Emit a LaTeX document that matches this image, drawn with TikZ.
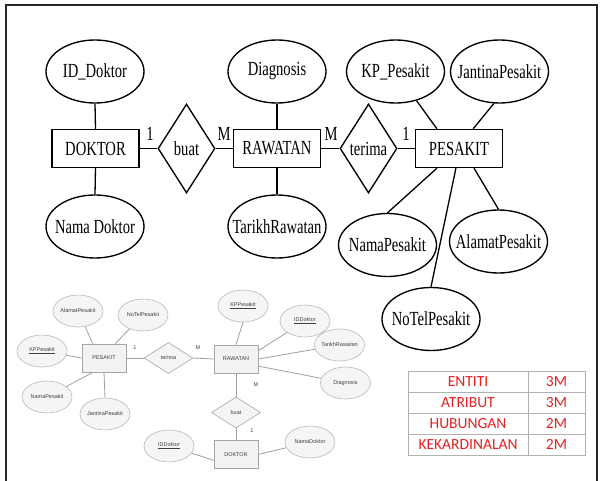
\documentclass[tikz,border=0pt]{standalone}
\usepackage{fontspec}
\setmainfont{Liberation Serif}
\newfontfamily\erfont[FakeStretch=0.73]{Liberation Serif}
\newfontfamily\smallfont{Liberation Sans}
\newfontfamily\tabfont{Carlito}
\usetikzlibrary{shapes.geometric,calc}
\newcommand\zb[1]{\makebox[0pt]{#1}}
\newcommand\us{{\char"5F}}
\definecolor{tabred}{RGB}{228,34,34}
\begin{document}
\begin{tikzpicture}[x=1pt,y=-1pt,
  big/.style={font=\erfont\fontsize{20}{22}\selectfont, line width=1.35pt, inner sep=0pt},
  bent/.style={big, draw, rectangle, minimum width=87pt, minimum height=38pt},
  battr/.style={big, draw, ellipse, minimum width=98pt, minimum height=63pt},
  brel/.style={big, draw, diamond, minimum width=57pt, minimum height=89pt},
  card/.style={font=\erfont\fontsize{20}{22}\selectfont, inner sep=0pt},
  bline/.style={line width=1.3pt, black},
  small/.style={font=\smallfont\fontsize{5.5}{6.5}\selectfont, text=black!75, inner sep=0pt, line width=0.6pt},
  sent/.style={small, draw=gray!70, fill=gray!10, rectangle, minimum width=44pt, minimum height=28pt},
  sattr/.style={small, draw=gray!55, fill=gray!8, ellipse, minimum width=50pt, minimum height=32pt},
  srel/.style={small, draw=gray!70, fill=gray!8, diamond, minimum width=49pt, minimum height=31pt},
  scard/.style={small},
  sline/.style={draw=gray!75, line width=0.8pt},
  cell/.style={draw=gray!60, line width=0.7pt, rectangle, inner sep=0pt, minimum height=21pt,
    font=\tabfont\fontsize{15.5}{17}\selectfont, text=tabred},
  cellA/.style={cell, minimum width=120pt},
  cellB/.style={cell, minimum width=57pt}
]
\useasboundingbox (0,0) rectangle (604,481);
\fill[white] (0,0) rectangle (604,481);
\draw[line width=2pt, black!85] (6,486) -- (6,5) -- (597,5) -- (597,486);

% ---------- top diagram ----------
\node[battr] (idd) at (95,71.5) {\zb{ID\us Doktor}};
\node[bent] (dok) at (95.5,148.5) {\zb{DOKTOR}};
\node[battr] (nmd) at (95,226.5) {\zb{Nama Doktor}};
\node[brel] (buat) at (186.5,148.5) {\zb{buat}};
\node[bent] (raw) at (277,148.5) {\zb{RAWATAN}};
\node[battr] (diag) at (277,71.5) {\zb{Diagnosis}};
\node[battr] (tr) at (277,226.5) {\zb{TarikhRawatan}};
\node[brel] (ter) at (368.5,148.5) {\zb{terima}};
\node[bent] (pes) at (459,148.5) {\zb{PESAKIT}};
\node[battr] (kp) at (395.5,71.5) {\zb{KP\us Pesakit}};
\node[battr] (jp) at (499.5,71.5) {\zb{JantinaPesakit}};
\node[battr] (np) at (387.5,245) {\zb{NamaPesakit}};
\node[battr] (ap) at (498.5,241.5) {\zb{AlamatPesakit}};
\node[battr] (ntp) at (431,319) {\zb{NoTelPesakit}};

\node[card] (c1) at (150,134) {1};
\node[card] (c2) at (224,134) {M};
\node[card] (c3) at (331,134) {M};
\node[card] (c4) at (406,134) {1};

\draw[bline] (idd.south) -- (dok.north);
\draw[bline] (dok.south) -- (nmd.north);
\draw[bline] (dok.east) -- (buat.west);
\draw[bline] (buat.east) -- (raw.west);
\draw[bline] (diag.south) -- (raw.north);
\draw[bline] (raw.south) -- (tr.north);
\draw[bline] (raw.east) -- (ter.west);
\draw[bline] (ter.east) -- (pes.west);
\draw[bline] (kp) -- ($(pes.north west)!0.25!(pes.north east)$);
\draw[bline] (jp.-100) -- ($(pes.north west)!0.66!(pes.north east)$);
\draw[bline] ($(pes.south west)!0.25!(pes.south east)$) -- (np.north);
\draw[bline] ($(pes.south west)!0.465!(pes.south east)$) -- (ntp.north);
\draw[bline] ($(pes.south west)!0.67!(pes.south east)$) -- (ap.north);

% ---------- bottom diagram ----------
\node[sent] (spes) at (104,358) {PESAKIT};
\node[sattr] (sap) at (78,311) {\zb{AlamatPesakit}};
\node[sattr] (snt) at (143,315) {\zb{NoTelPesakit}};
\node[sattr] (skp) at (42,351) {\zb{\underline{KPPesakit}}};
\node[sattr] (snp) at (47,397) {\zb{NamaPesakit}};
\node[sattr] (sjp) at (105,414) {\zb{JantinaPesakit}};
\node[srel] (ster) at (168.5,358) {\zb{terima}};
\node[sent] (sraw) at (236,359) {RAWATAN};
\node[sattr] (skp2) at (243,306) {\zb{\underline{KPPesakit}}};
\node[sattr] (sid) at (305,321) {\zb{\underline{IDDoktor}}};
\node[sattr] (str) at (339.5,345) {\zb{TarikhRawatan}};
\node[sattr] (sdg) at (345.5,383) {\zb{Diagnosis}};
\node[srel] (sbuat) at (236,412.5) {\zb{buat}};
\node[sent] (sdok) at (236,454.5) {DOKTOR};
\node[sattr] (sid2) at (169,446) {\zb{\underline{IDDoktor}}};
\node[sattr] (snd) at (310,442) {\zb{NamaDoktor}};

\node[scard] (d1) at (135,348) {1};
\node[scard] (d2) at (198,348) {M};
\node[scard] (d3) at (256,385) {M};
\node[scard] (d4) at (252,431) {1};

\draw[sline] (sap) -- ($(spes.north west)!0.25!(spes.north east)$);
\draw[sline] (snt) -- ($(spes.north west)!0.75!(spes.north east)$);
\draw[sline] (skp) -- (spes.west);
\draw[sline] (snp) -- ($(spes.south west)!0.25!(spes.south east)$);
\draw[sline] (sjp.north) -- (spes.south);
\draw[sline] (spes.east) -- (ster.west);
\draw[sline] (ster.east) -- (sraw.west);
\draw[sline] (skp2.south) -- (sraw.north);
\draw[sline] (sid) -- ($(sraw.north east)!0.21!(sraw.south east)$);
\draw[sline] (str) -- (sraw.east);
\draw[sline] (sdg) -- ($(sraw.north east)!0.75!(sraw.south east)$);
\draw[sline] (sraw.south) -- (sbuat.north);
\draw[sline] (sbuat.south) -- (sdok.north);
\draw[sline] (sid2) -- ($(sdok.north west)!0.7!(sdok.south west)$);
\draw[sline] (snd) -- (sdok.east);

% ---------- table ----------
\node[cellA] (t1a) at (468,381.5) {ENTITI};
\node[cellB] (t1b) at (556.5,381.5) {3M};
\node[cellA] (t2a) at (468,402.5) {ATRIBUT};
\node[cellB] (t2b) at (556.5,402.5) {3M};
\node[cellA] (t3a) at (468,423.5) {HUBUNGAN};
\node[cellB] (t3b) at (556.5,423.5) {2M};
\node[cellA] (t4a) at (468,444.5) {KEKARDINALAN};
\node[cellB] (t4b) at (556.5,444.5) {2M};
\end{tikzpicture}
\end{document}
